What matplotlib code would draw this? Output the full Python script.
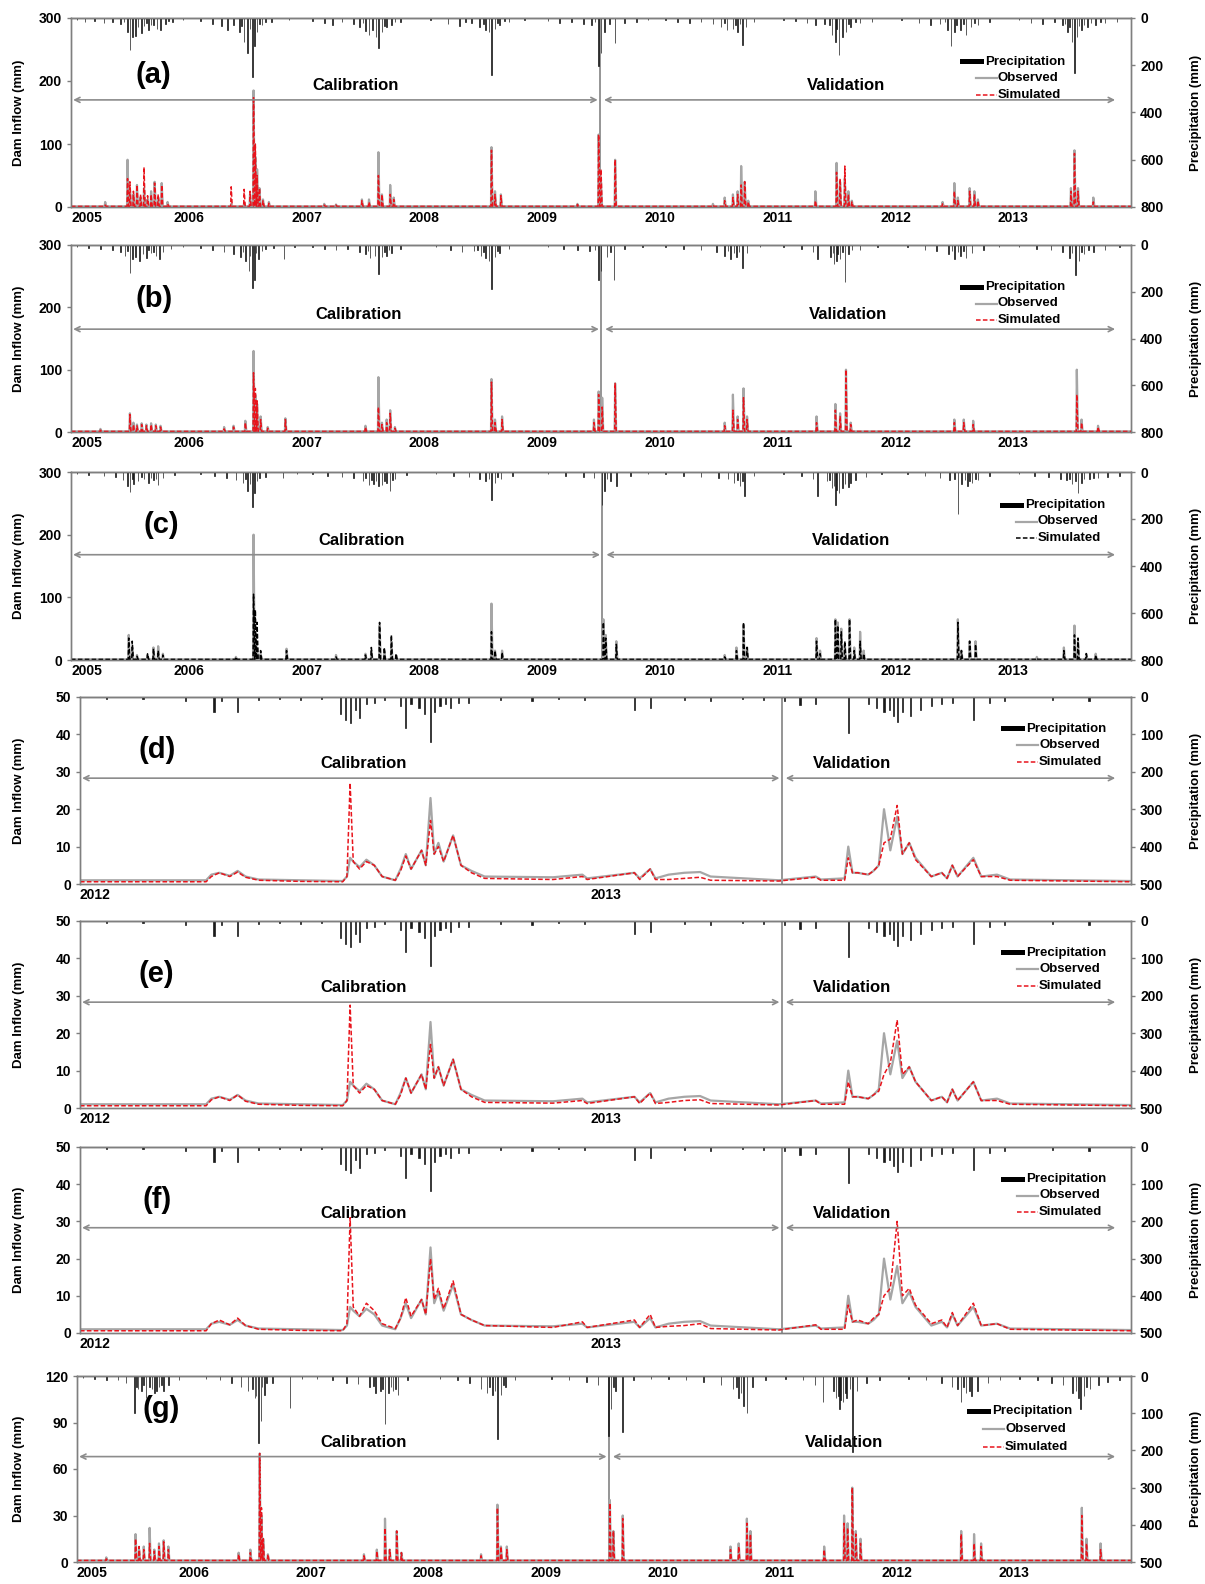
import matplotlib
matplotlib.use("Agg")
import matplotlib.pyplot as plt
from matplotlib.lines import Line2D
from matplotlib.patches import Rectangle

plt.rcParams['font.family'] = ['Liberation Sans', 'DejaVu Sans']
plt.rcParams['font.weight'] = 'bold'

# ------------------------------------------------------------------ DATA
# Long records (2005-2013): events (year, observed peak, simulated peak)
a_events = [
    (2005.29, 8, 3), (2005.48, 75, 45), (2005.50, 30, 40), (2005.53, 20, 25), (2005.56, 35, 35),
    (2005.59, 15, 20), (2005.62, 30, 63), (2005.65, 12, 18), (2005.68, 25, 20), (2005.71, 40, 38),
    (2005.74, 15, 20), (2005.77, 38, 35), (2005.82, 8, 5), (2006.36, 5, 32), (2006.47, 6, 28),
    (2006.52, 20, 25), (2006.55, 185, 175), (2006.565, 80, 100), (2006.58, 60, 50), (2006.60, 30, 30),
    (2006.63, 12, 10), (2006.68, 8, 6), (2007.15, 5, 3), (2007.25, 4, 3), (2007.47, 12, 10),
    (2007.53, 12, 8), (2007.61, 87, 50), (2007.64, 20, 20), (2007.71, 35, 20), (2007.74, 15, 12),
    (2008.57, 95, 90), (2008.60, 25, 20), (2008.65, 20, 18), (2009.30, 5, 4), (2009.48, 115, 115),
    (2009.50, 40, 60), (2009.62, 75, 75), (2010.45, 5, 3), (2010.55, 15, 10), (2010.62, 20, 15),
    (2010.66, 25, 20), (2010.69, 65, 35), (2010.72, 40, 40), (2010.75, 10, 8), (2011.32, 25, 10),
    (2011.50, 70, 55), (2011.53, 40, 45), (2011.57, 45, 65), (2011.60, 25, 20), (2011.63, 10, 8),
    (2012.40, 8, 5), (2012.50, 38, 25), (2012.53, 15, 10), (2012.63, 30, 25), (2012.67, 25, 20),
    (2012.70, 12, 10), (2013.49, 30, 25), (2013.52, 90, 85), (2013.55, 30, 25), (2013.68, 15, 8),
]
a_precip = [
    (2005.05, 10), (2005.12, 15), (2005.20, 12), (2005.28, 20), (2005.35, 15), (2005.42, 25),
    (2005.48, 60), (2005.50, 135), (2005.52, 80), (2005.55, 78), (2005.57, 40), (2005.60, 64),
    (2005.62, 35), (2005.66, 50), (2005.70, 30), (2005.73, 45), (2005.76, 50), (2005.80, 25),
    (2005.86, 15), (2005.95, 10), (2006.10, 12), (2006.20, 25), (2006.28, 35), (2006.33, 50),
    (2006.38, 30), (2006.43, 60), (2006.47, 100), (2006.50, 150), (2006.54, 250), (2006.56, 120),
    (2006.58, 60), (2006.62, 30), (2006.70, 15), (2006.85, 10), (2007.05, 12), (2007.15, 20),
    (2007.22, 30), (2007.30, 15), (2007.40, 25), (2007.45, 40), (2007.50, 55), (2007.53, 70),
    (2007.56, 50), (2007.59, 80), (2007.61, 127), (2007.64, 60), (2007.68, 40), (2007.72, 30),
    (2007.80, 15), (2008.05, 10), (2008.20, 25), (2008.30, 35), (2008.40, 20), (2008.47, 40),
    (2008.52, 50), (2008.55, 60), (2008.57, 240), (2008.60, 45), (2008.64, 30), (2008.72, 15),
    (2008.85, 10), (2009.05, 12), (2009.15, 20), (2009.25, 15), (2009.35, 25), (2009.42, 30),
    (2009.48, 205), (2009.50, 150), (2009.53, 60), (2009.62, 106), (2009.70, 20), (2009.80, 15),
    (2009.90, 10), (2010.05, 10), (2010.15, 15), (2010.25, 20), (2010.35, 15), (2010.45, 25),
    (2010.52, 40), (2010.57, 50), (2010.62, 45), (2010.66, 60), (2010.70, 113), (2010.73, 40),
    (2010.80, 15), (2011.05, 10), (2011.15, 12), (2011.25, 20), (2011.32, 30), (2011.40, 25),
    (2011.46, 70), (2011.49, 100), (2011.52, 156), (2011.55, 80), (2011.58, 60), (2011.62, 40),
    (2011.70, 20), (2011.80, 15), (2012.05, 10), (2012.20, 20), (2012.30, 30), (2012.38, 25),
    (2012.44, 50), (2012.47, 120), (2012.50, 60), (2012.55, 50), (2012.60, 70), (2012.64, 40),
    (2012.70, 30), (2012.80, 15), (2013.05, 10), (2013.15, 20), (2013.25, 25), (2013.35, 15),
    (2013.42, 30), (2013.46, 60), (2013.50, 100), (2013.52, 234), (2013.54, 80), (2013.58, 50),
    (2013.63, 40), (2013.70, 30), (2013.78, 20), (2013.88, 15),
    (2005.45, 18), (2005.64, 22), (2005.68, 28), (2005.83, 12), (2006.45, 35), (2006.52, 45),
    (2006.60, 25), (2006.65, 18), (2007.48, 22), (2007.66, 35), (2007.75, 18), (2008.35, 15),
    (2008.50, 25), (2008.62, 22), (2008.68, 12), (2009.45, 18), (2009.57, 25), (2010.55, 22),
    (2010.64, 30), (2010.68, 25), (2011.44, 30), (2011.50, 45), (2011.60, 25), (2011.66, 18),
    (2012.42, 18), (2012.52, 30), (2012.58, 25), (2012.67, 20), (2013.44, 25), (2013.48, 40),
    (2013.56, 35), (2013.60, 30), (2013.66, 20), (2013.74, 15),
]

b_events = [
    (2005.25, 5, 3), (2005.50, 30, 28), (2005.53, 15, 12), (2005.56, 12, 10), (2005.60, 14, 12),
    (2005.64, 12, 10), (2005.68, 14, 12), (2005.72, 12, 10), (2005.76, 10, 8), (2006.30, 8, 5),
    (2006.38, 10, 8), (2006.48, 18, 15), (2006.55, 130, 95), (2006.565, 60, 70), (2006.58, 45, 50),
    (2006.61, 25, 20), (2006.67, 8, 6), (2006.82, 22, 20), (2007.50, 10, 8), (2007.61, 88, 40),
    (2007.64, 15, 12), (2007.68, 20, 15), (2007.71, 35, 30), (2007.75, 8, 6), (2008.57, 85, 80),
    (2008.60, 20, 15), (2008.66, 25, 20), (2009.44, 20, 15), (2009.48, 65, 60), (2009.51, 55, 40),
    (2009.62, 78, 78), (2010.55, 15, 10), (2010.62, 60, 35), (2010.66, 25, 20), (2010.71, 70, 55),
    (2010.74, 25, 20), (2011.33, 25, 15), (2011.49, 45, 35), (2011.53, 30, 25), (2011.58, 100, 100),
    (2011.62, 15, 12), (2012.50, 20, 15), (2012.58, 20, 15), (2012.66, 18, 12), (2013.54, 100, 60),
    (2013.58, 20, 15), (2013.72, 10, 8),
]
b_precip = [
    (2005.05, 10), (2005.15, 12), (2005.25, 15), (2005.35, 20), (2005.42, 30), (2005.46, 45),
    (2005.50, 120), (2005.52, 60), (2005.55, 50), (2005.58, 70), (2005.61, 40), (2005.64, 55),
    (2005.68, 35), (2005.72, 45), (2005.75, 60), (2005.78, 30), (2005.85, 15), (2005.95, 10),
    (2006.10, 12), (2006.20, 20), (2006.30, 30), (2006.38, 40), (2006.44, 50), (2006.48, 70),
    (2006.51, 110), (2006.54, 185), (2006.56, 150), (2006.59, 60), (2006.62, 25), (2006.72, 12),
    (2006.81, 60), (2006.90, 10), (2007.05, 10), (2007.15, 15), (2007.25, 20), (2007.35, 15),
    (2007.45, 30), (2007.50, 40), (2007.54, 55), (2007.58, 45), (2007.61, 125), (2007.64, 50),
    (2007.68, 45), (2007.72, 35), (2007.80, 15), (2008.10, 10), (2008.22, 20), (2008.32, 30),
    (2008.42, 25), (2008.48, 45), (2008.52, 55), (2008.55, 70), (2008.57, 190), (2008.60, 50),
    (2008.64, 35), (2008.72, 15), (2009.05, 10), (2009.18, 15), (2009.30, 20), (2009.40, 25),
    (2009.48, 150), (2009.50, 110), (2009.55, 50), (2009.61, 150), (2009.70, 15), (2009.85, 10),
    (2010.05, 10), (2010.20, 15), (2010.35, 20), (2010.48, 30), (2010.55, 45), (2010.60, 60),
    (2010.65, 50), (2010.70, 100), (2010.74, 35), (2010.85, 10), (2011.05, 10), (2011.20, 15),
    (2011.30, 30), (2011.34, 60), (2011.45, 50), (2011.48, 80), (2011.50, 70), (2011.53, 60),
    (2011.57, 160), (2011.60, 40), (2011.70, 20), (2011.85, 10), (2012.10, 10), (2012.25, 20),
    (2012.35, 25), (2012.45, 40), (2012.50, 60), (2012.55, 45), (2012.60, 55), (2012.65, 35),
    (2012.75, 20), (2012.88, 10), (2013.05, 10), (2013.20, 15), (2013.32, 20), (2013.42, 30),
    (2013.48, 55), (2013.53, 130), (2013.56, 70), (2013.60, 40), (2013.68, 30), (2013.78, 20),
    (2013.90, 10),
    (2005.48, 25), (2005.66, 20), (2005.70, 28), (2006.46, 30), (2006.52, 45), (2006.57, 35),
    (2006.65, 15), (2007.52, 25), (2007.66, 30), (2007.70, 22), (2008.45, 20), (2008.50, 30),
    (2008.62, 25), (2009.45, 20), (2009.58, 30), (2010.58, 25), (2010.63, 35), (2010.67, 28),
    (2011.47, 35), (2011.51, 40), (2011.55, 30), (2011.63, 20), (2012.48, 25), (2012.53, 30),
    (2012.58, 25), (2013.50, 35), (2013.58, 30), (2013.64, 20),
]

c_events = [
    (2005.49, 40, 35), (2005.52, 20, 30), (2005.56, 8, 6), (2005.65, 8, 10), (2005.70, 20, 18),
    (2005.74, 22, 15), (2005.78, 10, 8), (2006.40, 5, 5), (2006.55, 200, 105), (2006.565, 40, 80),
    (2006.58, 20, 60), (2006.61, 10, 15), (2006.83, 18, 15), (2007.25, 8, 5), (2007.50, 10, 8),
    (2007.55, 15, 20), (2007.62, 55, 60), (2007.66, 15, 20), (2007.72, 30, 40), (2007.76, 8, 10),
    (2008.57, 90, 45), (2008.60, 15, 15), (2008.66, 15, 12), (2009.52, 65, 60), (2009.54, 40, 35),
    (2009.63, 30, 25), (2010.55, 8, 5), (2010.65, 20, 15), (2010.71, 55, 60), (2010.74, 20, 20),
    (2011.33, 35, 30), (2011.36, 15, 10), (2011.49, 65, 65), (2011.51, 60, 55), (2011.54, 50, 45),
    (2011.57, 25, 30), (2011.61, 65, 65), (2011.65, 20, 15), (2011.70, 45, 30), (2011.73, 15, 10),
    (2012.53, 65, 60), (2012.56, 15, 15), (2012.63, 30, 30), (2012.68, 30, 25), (2013.20, 5, 3),
    (2013.43, 20, 15), (2013.52, 55, 40), (2013.55, 30, 35), (2013.62, 10, 10), (2013.70, 10, 8),
]
c_precip = [
    (2005.05, 8), (2005.15, 12), (2005.28, 15), (2005.38, 20), (2005.44, 35), (2005.48, 60),
    (2005.50, 85), (2005.53, 50), (2005.57, 40), (2005.62, 30), (2005.66, 45), (2005.70, 35),
    (2005.74, 55), (2005.78, 25), (2005.88, 12), (2006.10, 10), (2006.22, 15), (2006.32, 25),
    (2006.40, 35), (2006.46, 45), (2006.50, 80), (2006.54, 150), (2006.56, 90), (2006.58, 40),
    (2006.65, 20), (2006.80, 25), (2006.92, 10), (2007.05, 10), (2007.18, 15), (2007.30, 20),
    (2007.40, 25), (2007.48, 40), (2007.53, 55), (2007.57, 50), (2007.61, 60), (2007.64, 55),
    (2007.68, 45), (2007.71, 80), (2007.75, 30), (2007.85, 12), (2008.10, 10), (2008.25, 15),
    (2008.38, 20), (2008.47, 30), (2008.52, 40), (2008.57, 120), (2008.60, 45), (2008.65, 30),
    (2008.75, 15), (2009.05, 10), (2009.20, 15), (2009.35, 20), (2009.44, 25), (2009.51, 140),
    (2009.53, 80), (2009.58, 40), (2009.63, 60), (2009.75, 15), (2009.90, 10), (2010.05, 10),
    (2010.20, 15), (2010.35, 20), (2010.50, 25), (2010.58, 30), (2010.63, 45), (2010.68, 60),
    (2010.72, 100), (2010.80, 15), (2011.05, 10), (2011.20, 15), (2011.30, 30), (2011.34, 100),
    (2011.42, 40), (2011.46, 70), (2011.49, 140), (2011.52, 90), (2011.55, 70), (2011.60, 65),
    (2011.66, 35), (2011.75, 20), (2011.88, 10), (2012.10, 10), (2012.25, 15), (2012.38, 25),
    (2012.46, 35), (2012.53, 180), (2012.56, 50), (2012.61, 60), (2012.65, 45), (2012.70, 35),
    (2012.80, 15), (2013.05, 10), (2013.18, 15), (2013.30, 20), (2013.40, 30), (2013.45, 35),
    (2013.50, 50), (2013.55, 90), (2013.58, 45), (2013.65, 30), (2013.72, 25), (2013.80, 20),
    (2013.90, 15),
    (2005.52, 30), (2005.60, 22), (2005.68, 25), (2005.72, 30), (2006.48, 30), (2006.52, 50),
    (2006.60, 25), (2007.50, 25), (2007.55, 35), (2007.59, 40), (2007.66, 38), (2007.73, 35),
    (2008.55, 30), (2008.62, 20), (2009.55, 30), (2010.66, 35), (2010.70, 40), (2011.44, 35),
    (2011.48, 60), (2011.50, 75), (2011.57, 50), (2011.62, 45), (2012.50, 30), (2012.59, 35),
    (2012.63, 40), (2012.68, 30), (2013.48, 30), (2013.53, 40), (2013.60, 30), (2013.68, 25),
]

g_events = [
    (2005.25, 3, 2), (2005.50, 18, 15), (2005.53, 8, 10), (2005.57, 10, 8), (2005.62, 22, 12),
    (2005.66, 8, 7), (2005.70, 12, 10), (2005.74, 14, 13), (2005.78, 10, 8), (2006.38, 6, 5),
    (2006.48, 8, 6), (2006.56, 70, 70), (2006.575, 30, 35), (2006.59, 15, 15), (2006.63, 5, 5),
    (2007.45, 5, 4), (2007.56, 8, 7), (2007.63, 28, 22), (2007.67, 8, 8), (2007.73, 20, 20),
    (2007.77, 6, 6), (2008.45, 5, 4), (2008.59, 37, 35), (2008.62, 10, 10), (2008.67, 10, 8),
    (2009.55, 40, 38), (2009.58, 20, 20), (2009.66, 30, 28), (2010.58, 10, 8), (2010.65, 12, 10),
    (2010.72, 28, 25), (2010.75, 20, 18), (2011.38, 10, 8), (2011.55, 30, 25), (2011.58, 25, 22),
    (2011.62, 48, 48), (2011.65, 20, 18), (2011.69, 15, 12), (2012.55, 20, 18), (2012.66, 18, 12),
    (2012.72, 12, 10), (2013.58, 35, 30), (2013.62, 15, 12), (2013.74, 12, 8),
]
g_precip = [
    (2005.05, 5), (2005.15, 8), (2005.25, 10), (2005.35, 12), (2005.42, 20), (2005.49, 100),
    (2005.52, 35), (2005.55, 40), (2005.59, 60), (2005.62, 30), (2005.66, 45), (2005.70, 30),
    (2005.74, 40), (2005.78, 25), (2005.87, 10), (2006.10, 8), (2006.22, 12), (2006.32, 20),
    (2006.40, 30), (2006.46, 40), (2006.52, 60), (2006.55, 180), (2006.57, 120), (2006.60, 50),
    (2006.67, 20), (2006.82, 85), (2006.92, 8), (2007.05, 8), (2007.18, 12), (2007.30, 18),
    (2007.40, 22), (2007.50, 30), (2007.55, 45), (2007.59, 40), (2007.63, 130), (2007.66, 45),
    (2007.70, 40), (2007.74, 50), (2007.82, 12), (2008.10, 8), (2008.25, 12), (2008.35, 20),
    (2008.45, 35), (2008.50, 45), (2008.55, 50), (2008.59, 170), (2008.62, 50), (2008.66, 30),
    (2008.74, 12), (2009.05, 8), (2009.20, 12), (2009.35, 15), (2009.45, 25), (2009.54, 160),
    (2009.56, 90), (2009.60, 40), (2009.66, 150), (2009.75, 12), (2009.90, 8), (2010.05, 8),
    (2010.20, 12), (2010.35, 15), (2010.50, 25), (2010.60, 35), (2010.65, 60), (2010.69, 80),
    (2010.72, 100), (2010.77, 30), (2010.88, 10), (2011.05, 8), (2011.20, 12), (2011.30, 25),
    (2011.37, 70), (2011.48, 60), (2011.51, 90), (2011.54, 70), (2011.57, 60), (2011.62, 205),
    (2011.66, 40), (2011.74, 20), (2011.85, 10), (2012.10, 8), (2012.25, 12), (2012.38, 20),
    (2012.47, 30), (2012.55, 70), (2012.59, 45), (2012.64, 55), (2012.69, 40), (2012.78, 20),
    (2012.88, 10), (2013.05, 8), (2013.20, 12), (2013.32, 18), (2013.42, 25), (2013.50, 45),
    (2013.57, 90), (2013.60, 55), (2013.65, 35), (2013.72, 25), (2013.80, 15), (2013.90, 10),
    (2005.51, 30), (2005.57, 25), (2005.64, 35), (2005.68, 40), (2005.72, 25), (2006.50, 35),
    (2006.53, 55), (2006.58, 30), (2006.62, 20), (2007.53, 28), (2007.61, 35), (2007.68, 30),
    (2007.72, 35), (2008.52, 30), (2008.57, 40), (2008.64, 25), (2009.58, 30), (2010.63, 30),
    (2010.67, 45), (2011.46, 40), (2011.50, 55), (2011.52, 65), (2011.56, 45), (2011.60, 35),
    (2012.52, 35), (2012.57, 30), (2012.62, 40), (2013.53, 40), (2013.55, 60), (2013.62, 30),
]

# Short records (2012-2013, panels d-f): year, observed, simulated (d), (e), (f)
def_flow = [
    (2012.000, 1.0, 0.6, 0.6, 0.6), (2012.240, 1.0, 0.6, 0.6, 0.6), (2012.250, 2.5, 2.0, 2.2, 2.5),
    (2012.265, 3.0, 3.0, 3.0, 3.5), (2012.285, 2.2, 2.0, 2.0, 2.2), (2012.300, 3.5, 3.2, 3.5, 4.0),
    (2012.315, 2.0, 1.8, 1.8, 2.0), (2012.340, 1.2, 1.0, 1.0, 1.0), (2012.420, 1.0, 0.7, 0.7, 0.7),
    (2012.500, 0.8, 0.6, 0.6, 0.6), (2012.508, 2.0, 2.0, 2.0, 2.5), (2012.514, 7.0, 27.0, 27.5, 31.0),
    (2012.520, 6.0, 6.0, 6.0, 7.0), (2012.532, 4.5, 4.0, 4.0, 4.5), (2012.545, 6.5, 6.0, 6.0, 8.0),
    (2012.560, 5.0, 5.0, 5.0, 6.0), (2012.575, 2.0, 2.0, 2.0, 2.5), (2012.600, 1.0, 1.0, 1.0, 1.2),
    (2012.610, 4.0, 3.5, 3.5, 4.0), (2012.620, 8.0, 7.5, 8.0, 9.5), (2012.630, 4.0, 4.0, 4.0, 4.5),
    (2012.650, 9.0, 9.0, 9.0, 9.0), (2012.658, 5.0, 5.0, 5.0, 5.0), (2012.667, 23.0, 17.0, 17.0, 20.0),
    (2012.674, 8.0, 8.0, 8.0, 9.0), (2012.682, 11.0, 10.0, 11.0, 12.0), (2012.692, 6.0, 6.0, 6.0, 6.5),
    (2012.710, 13.0, 13.0, 13.0, 14.0), (2012.725, 5.0, 5.0, 5.0, 5.0), (2012.745, 3.5, 3.0, 3.0, 3.5),
    (2012.770, 2.0, 1.5, 1.5, 2.0), (2012.900, 1.8, 1.2, 1.3, 1.5), (2012.956, 2.5, 2.0, 2.0, 3.0),
    (2012.965, 1.5, 1.2, 1.2, 1.5), (2013.055, 3.0, 3.0, 3.0, 3.5), (2013.065, 1.5, 1.2, 1.2, 1.5),
    (2013.085, 4.0, 4.0, 4.0, 5.0), (2013.095, 1.5, 1.2, 1.2, 1.5), (2013.120, 2.5, 1.2, 1.5, 1.8),
    (2013.150, 3.0, 1.5, 2.0, 2.0), (2013.180, 3.2, 1.8, 2.2, 2.5), (2013.200, 2.0, 1.0, 1.2, 1.2),
    (2013.330, 1.0, 0.8, 0.8, 0.8), (2013.400, 2.0, 1.8, 2.0, 2.2), (2013.410, 1.2, 1.0, 1.0, 1.0),
    (2013.455, 1.5, 1.0, 1.0, 1.0), (2013.462, 10.0, 7.0, 7.0, 7.5), (2013.470, 3.0, 3.0, 3.0, 3.0),
    (2013.480, 3.0, 3.0, 3.0, 3.5), (2013.500, 2.5, 2.5, 2.5, 2.5), (2013.510, 3.5, 3.5, 3.5, 4.0),
    (2013.520, 5.0, 5.0, 4.5, 5.0), (2013.530, 20.0, 11.0, 9.0, 10.0), (2013.542, 9.0, 12.0, 12.0, 12.0),
    (2013.555, 18.0, 21.0, 23.5, 30.0), (2013.565, 8.0, 8.0, 9.0, 10.0), (2013.578, 11.0, 11.0, 11.0, 12.0),
    (2013.590, 7.0, 6.5, 7.0, 7.5), (2013.620, 2.0, 2.0, 2.0, 2.5), (2013.640, 3.0, 3.0, 3.0, 3.5),
    (2013.650, 1.5, 1.5, 1.5, 1.5), (2013.660, 5.0, 5.0, 5.0, 5.5), (2013.670, 2.0, 2.0, 2.0, 2.0),
    (2013.700, 7.0, 6.5, 7.0, 8.0), (2013.715, 2.0, 2.0, 2.0, 2.0), (2013.745, 2.5, 2.0, 2.0, 2.5),
    (2013.770, 1.2, 1.0, 1.0, 1.0), (2014.000, 0.8, 0.6, 0.6, 0.6),
]
def_precip = [
    (2012.05, 5), (2012.12, 6), (2012.20, 10), (2012.255, 40), (2012.27, 12), (2012.30, 40),
    (2012.34, 8), (2012.38, 6), (2012.42, 8), (2012.46, 6), (2012.495, 45), (2012.505, 62),
    (2012.514, 70), (2012.525, 35), (2012.532, 57), (2012.545, 20), (2012.56, 15), (2012.58, 8),
    (2012.61, 25), (2012.62, 84), (2012.63, 20), (2012.645, 30), (2012.655, 45), (2012.667, 119),
    (2012.675, 40), (2012.685, 25), (2012.695, 20), (2012.705, 30), (2012.72, 15), (2012.74, 15),
    (2012.80, 8), (2012.86, 10), (2012.91, 5), (2012.96, 8), (2013.055, 35), (2013.085, 30),
    (2013.15, 8), (2013.20, 10), (2013.26, 6), (2013.30, 8), (2013.34, 12), (2013.37, 22),
    (2013.40, 20), (2013.462, 97), (2013.50, 20), (2013.515, 30), (2013.53, 40), (2013.54, 35),
    (2013.548, 50), (2013.555, 66), (2013.565, 40), (2013.58, 50), (2013.60, 35), (2013.62, 25),
    (2013.64, 20), (2013.66, 15), (2013.70, 62), (2013.73, 15), (2013.76, 10), (2013.85, 8),
    (2013.92, 10),
]

long_years = [2005, 2006, 2007, 2008, 2009, 2010, 2011, 2012, 2013]
short_years = [2012, 2013]
legend_labels = ['Precipitation', 'Observed', 'Simulated']

# ------------------------------------------------------------------ HELPERS
FIG_W, FIG_H = 1205, 1584
OBS_C = '#a6a6a6'
RED_C = '#e8141c'


def spike_line(events, col, base, x0, x1, rise=0.004, fall=0.009):
    pts = [(x0, base), (x1, base)]
    for ev in events:
        t, v = ev[0], ev[col]
        pts += [(t - rise, base), (t, v), (t + fall, base)]
    pts.sort(key=lambda p: p[0])
    return [p[0] for p in pts], [p[1] for p in pts]


def make_axes(fig, left, right, top, bottom):
    return fig.add_axes([left / FIG_W, 1 - bottom / FIG_H,
                         (right - left) / FIG_W, (bottom - top) / FIG_H])


def excel_legend(ax, box, anchor, dy, sim_c):
    left, right, top, bottom = box
    fx = lambda x: (x - left) / (right - left)
    fy = lambda y: (bottom - y) / (bottom - top)
    x, y = anchor
    h = 5 / (bottom - top)
    ax.add_patch(Rectangle((fx(x), fy(y) - h / 2), fx(x + 24) - fx(x), h,
                           transform=ax.transAxes, facecolor='black', edgecolor='none',
                           clip_on=False, zorder=5))
    ax.text(fx(x + 25), fy(y), legend_labels[0], transform=ax.transAxes,
            ha='left', va='center', fontsize=9.5, fontweight='bold', zorder=5)
    styles = [dict(color=OBS_C, lw=1.6), dict(color=sim_c, lw=1.1, ls=(0, (3, 1.5)))]
    for k, st in enumerate(styles):
        yy = y + (k + 1) * dy
        ax.add_line(Line2D([fx(x + 16), fx(x + 37)], [fy(yy), fy(yy)],
                           transform=ax.transAxes, clip_on=False, zorder=5, **st))
        ax.text(fx(x + 38), fy(yy), legend_labels[k + 1], transform=ax.transAxes,
                ha='left', va='center', fontsize=9.5, fontweight='bold', zorder=5)


fig = plt.figure(figsize=(FIG_W / 100, FIG_H / 100), dpi=100)

panels = [
    dict(tag='(a)', kind='long', events=a_events, precip=a_precip, sim_c=RED_C,
         box=(71, 1131, 18, 207), ymax=300, ystep=100, pmax=800, pstep=200,
         boundary=2009.49, arrow_y=170, cal_x=2007.42, val_x=2011.58,
         tag_xy=(0.078, 0.70), leg=(960, 62), leg_dy=16.5),
    dict(tag='(b)', kind='long', events=b_events, precip=b_precip, sim_c=RED_C,
         box=(71, 1131, 245, 432), ymax=300, ystep=100, pmax=800, pstep=200,
         boundary=2009.50, arrow_y=165, cal_x=2007.44, val_x=2011.60,
         tag_xy=(0.078, 0.71), leg=(960, 287), leg_dy=16.5),
    dict(tag='(c)', kind='long', events=c_events, precip=c_precip, sim_c='black',
         box=(71, 1131, 472, 660), ymax=300, ystep=100, pmax=800, pstep=200,
         boundary=2009.51, arrow_y=168, cal_x=2007.47, val_x=2011.62,
         tag_xy=(0.085, 0.72), leg=(1000, 505), leg_dy=16.5),
    dict(tag='(d)', kind='short', col=2, sim_c=RED_C,
         box=(80, 1131, 697, 884), ymax=50, ystep=10, pmax=500, pstep=100,
         boundary=2013.335, arrow_y=28.3, cal_x=2012.54, val_x=2013.47,
         tag_xy=(0.073, 0.714), leg=(1001, 729), leg_dy=16.5),
    dict(tag='(e)', kind='short', col=3, sim_c=RED_C,
         box=(80, 1131, 921, 1108), ymax=50, ystep=10, pmax=500, pstep=100,
         boundary=2013.335, arrow_y=28.3, cal_x=2012.54, val_x=2013.47,
         tag_xy=(0.073, 0.714), leg=(1001, 953), leg_dy=16.5),
    dict(tag='(f)', kind='short', col=4, sim_c=RED_C,
         box=(80, 1131, 1147, 1333), ymax=50, ystep=10, pmax=500, pstep=100,
         boundary=2013.335, arrow_y=28.3, cal_x=2012.54, val_x=2013.47,
         tag_xy=(0.073, 0.714), leg=(1001, 1179), leg_dy=16.5),
    dict(tag='(g)', kind='long', events=g_events, precip=g_precip, sim_c=RED_C,
         box=(77, 1131, 1376, 1562), ymax=120, ystep=30, pmax=500, pstep=100,
         boundary=2009.54, arrow_y=68, cal_x=2007.45, val_x=2011.55,
         tag_xy=(0.08, 0.82), leg=(967, 1411), leg_dy=18),
]

for p in panels:
    left, right, top, bottom = p['box']
    ax = make_axes(fig, left, right, top, bottom)
    ax2 = ax.twinx()
    if p['kind'] == 'long':
        x0, x1 = 2005.0, 2014.0
        ox, oy = spike_line(p['events'], 1, 1.0, x0, x1)
        sx, sy = spike_line(p['events'], 2, 1.0, x0, x1)
        pre = p['precip']
        bar_w = 0.005
        years = long_years
    else:
        x0, x1 = 2012.0, 2014.0
        ox = [r[0] for r in def_flow]
        oy = [r[1] for r in def_flow]
        sx = ox
        sy = [r[p['col']] for r in def_flow]
        pre = def_precip
        bar_w = 0.0022
        years = short_years

    ax.plot(ox, oy, color=OBS_C, lw=1.6, zorder=2)
    ax.plot(sx, sy, color=p['sim_c'], lw=1.1, ls=(0, (3, 1.5)), zorder=3)
    ax2.bar([q[0] for q in pre], [q[1] for q in pre], width=bar_w,
            color='#1a1a1a', edgecolor='#1a1a1a', linewidth=0.5, align='center')

    ax.set_xlim(x0, x1)
    ax.set_ylim(0, p['ymax'])
    ax2.set_ylim(p['pmax'], 0)
    ax.set_yticks(range(0, p['ymax'] + 1, p['ystep']))
    ax2.set_yticks(range(0, p['pmax'] + 1, p['pstep']))
    ax.set_xticks(years)
    ax.set_xticklabels([str(y) for y in years])
    ax.get_xticklabels()[0].set_horizontalalignment('left')

    for a in (ax, ax2):
        for s in a.spines.values():
            s.set_color('#7f7f7f')
            s.set_linewidth(1.0)
        a.tick_params(colors='#7f7f7f', labelcolor='black', labelsize=10, length=3, width=1)
    ax.tick_params(axis='x', length=0, pad=3)
    ax.spines['top'].set_color('#333333')

    # separator and period arrows
    ax.axvline(p['boundary'], color='#8c8c8c', lw=1.3, zorder=1)
    ax.annotate('', xy=(x0 + 0.002 * (x1 - x0), p['arrow_y']),
                xytext=(p['boundary'] - 0.002 * (x1 - x0), p['arrow_y']),
                arrowprops=dict(arrowstyle='<->', color='#8c8c8c', lw=1.2,
                                shrinkA=0, shrinkB=0, mutation_scale=9))
    ax.annotate('', xy=(p['boundary'] + 0.004 * (x1 - x0), p['arrow_y']),
                xytext=(x1 - 0.015 * (x1 - x0), p['arrow_y']),
                arrowprops=dict(arrowstyle='<->', color='#8c8c8c', lw=1.2,
                                shrinkA=0, shrinkB=0, mutation_scale=9))
    for label, xc in (('Calibration', p['cal_x']), ('Validation', p['val_x'])):
        ax.annotate(label, xy=(xc, p['arrow_y']), xytext=(0, 10.5),
                    textcoords='offset points', ha='center', va='center',
                    fontsize=12, fontweight='bold')
    ax.text(p['tag_xy'][0], p['tag_xy'][1], p['tag'], transform=ax.transAxes,
            ha='center', va='center', fontsize=21, fontweight='bold')

    ax.set_ylabel('Dam Inflow (mm)', fontsize=9.5, fontweight='bold')
    ax.yaxis.set_label_coords((25 - left) / (right - left), 0.5)
    ax2.set_ylabel('Precipitation (mm)', fontsize=9.5, fontweight='bold')
    ax2.yaxis.set_label_coords((1190 - left) / (right - left), 0.5)

    excel_legend(ax2, p['box'], p['leg'], p['leg_dy'], p['sim_c'])

fig.savefig('out.png', dpi=100)
